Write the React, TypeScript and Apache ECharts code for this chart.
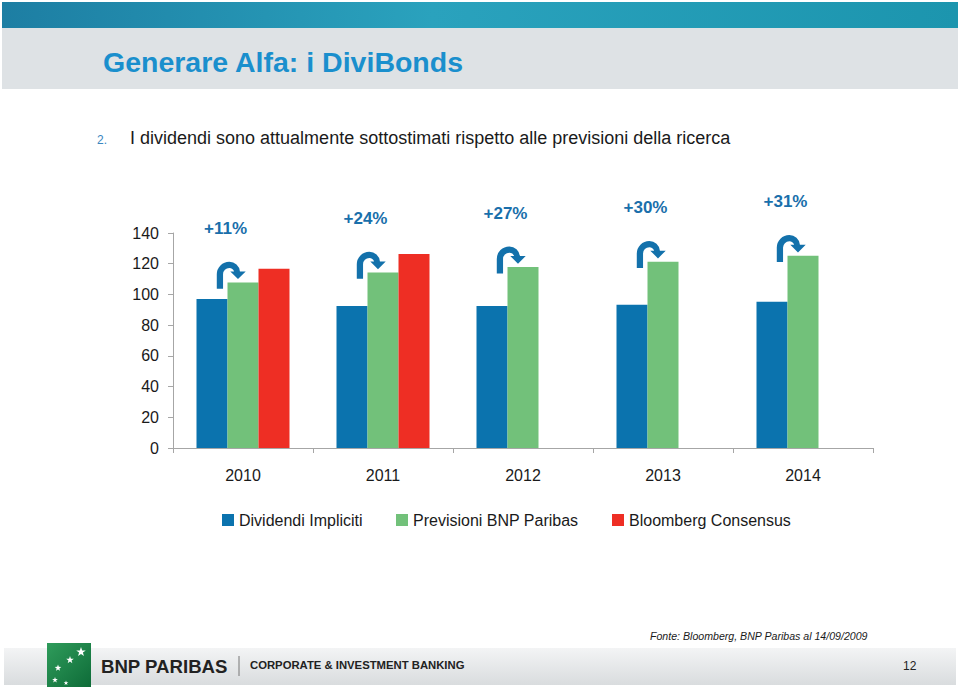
import React, { useEffect, useRef } from "react";
import * as echarts from "echarts";

const years = ["2010", "2011", "2012", "2013", "2014"];
const dividendiImpliciti = [97.1, 92.5, 92.5, 93.2, 95.2];
const previsioniBNP = [107.8, 114.3, 117.8, 121.3, 125.2];
const bloombergConsensus: (number | null)[] = [116.7, 126.3, null, null, null];
const upsideLabels = ["+11%", "+24%", "+27%", "+30%", "+31%"];
const seriesNames = ["Dividendi Impliciti", "Previsioni BNP Paribas", "Bloomberg Consensus"];

const SANS = "'Liberation Sans', Arial, sans-serif";

const BLUE = "#0b73ae";
const GREEN = "#72c17a";
const RED = "#ee2e24";
const ARROW = "#1371ab";

const arrowPath =
  "M0 28 L0 13 A13 13 0 0 1 13 0 A11 11 0 0 1 24 10 L30 10 L22 18 L14 10 L18 10 A5.5 5.5 0 0 0 13 6.5 A6.5 6.5 0 0 0 6.5 13 L6.5 28 Z";

export default function App() {
  const ref = useRef<HTMLDivElement>(null);
  useEffect(() => {
    if (!ref.current) return;
    const chart = echarts.init(ref.current, null, { renderer: "svg" });
    const star = (cx: number, cy: number, r: number) => {
      const pts: number[][] = [];
      for (let k = 0; k < 10; k++) {
        const a = -Math.PI / 2 + (k * Math.PI) / 5;
        const rr = k % 2 === 0 ? r : r * 0.4;
        pts.push([cx + rr * Math.cos(a), cy + rr * Math.sin(a)]);
      }
      return { type: "polygon", shape: { points: pts }, style: { fill: "#ffffff" } };
    };
    const legendText = { fontSize: 16, fontFamily: SANS, color: "#1a1a1a" };
    const legendLefts = [217, 391, 607];
    chart.setOption({
      animation: false,
      backgroundColor: "#ffffff",
      graphic: [
        {
          type: "rect",
          shape: { x: 2, y: 2, width: 956, height: 26 },
          style: {
            fill: new echarts.graphic.LinearGradient(0, 0, 1, 0, [
              { offset: 0, color: "#1d7ea3" },
              { offset: 0.45, color: "#2aa2bd" },
              { offset: 1, color: "#1c95ae" },
            ]),
          },
        },
        {
          type: "rect",
          shape: { x: 2, y: 28, width: 956, height: 61 },
          style: { fill: "#dee2e5" },
        },
        {
          type: "text",
          x: 103,
          y: 62,
          style: {
            text: "Generare Alfa: i DiviBonds",
            fontSize: 28.5,
            fontWeight: "bold",
            fontFamily: SANS,
            fill: "#1a8fcd",
            textVerticalAlign: "middle",
          },
        },
        {
          type: "text",
          x: 97,
          y: 140,
          style: {
            text: "2.",
            fontSize: 12,
            fontFamily: SANS,
            fill: "#3a86c0",
            textVerticalAlign: "middle",
          },
        },
        {
          type: "text",
          x: 130,
          y: 138,
          style: {
            text: "I dividendi sono attualmente sottostimati rispetto alle previsioni della ricerca",
            fontSize: 18,
            fontFamily: SANS,
            fill: "#1a1a1a",
            textVerticalAlign: "middle",
          },
        },
        {
          type: "text",
          x: 650,
          y: 636,
          style: {
            text: "Fonte: Bloomberg, BNP Paribas al 14/09/2009",
            fontSize: 10.6,
            fontStyle: "italic",
            fontFamily: SANS,
            fill: "#1a1a1a",
            textVerticalAlign: "middle",
          },
        },
        {
          type: "rect",
          shape: { x: 4, y: 648, width: 952, height: 37 },
          style: {
            fill: new echarts.graphic.LinearGradient(0, 0, 0, 1, [
              { offset: 0, color: "#f3f4f5" },
              { offset: 1, color: "#d9dcde" },
            ]),
          },
        },
        {
          type: "rect",
          shape: { x: 47, y: 643, width: 44, height: 44 },
          style: {
            fill: new echarts.graphic.LinearGradient(0, 0, 1, 1, [
              { offset: 0, color: "#2f9c5b" },
              { offset: 1, color: "#0e6b38" },
            ]),
          },
        },
        star(81, 652, 5),
        star(70, 660, 4),
        star(58, 668, 3.5),
        star(55, 680, 3),
        star(66, 683, 2.5),
        {
          type: "text",
          x: 101,
          y: 666,
          style: {
            text: "BNP PARIBAS",
            fontSize: 18.6,
            fontWeight: "bold",
            fontFamily: SANS,
            fill: "#222222",
            textVerticalAlign: "middle",
          },
        },
        {
          type: "line",
          shape: { x1: 239, y1: 656, x2: 239, y2: 676 },
          style: { stroke: "#777777", lineWidth: 1 },
        },
        {
          type: "text",
          x: 250,
          y: 665,
          style: {
            text: "CORPORATE & INVESTMENT BANKING",
            fontSize: 11.3,
            fontWeight: "bold",
            fontFamily: SANS,
            fill: "#222222",
            textVerticalAlign: "middle",
          },
        },
        {
          type: "text",
          x: 903,
          y: 666,
          style: {
            text: "12",
            fontSize: 12,
            fontFamily: SANS,
            fill: "#222222",
            textVerticalAlign: "middle",
          },
        },
      ],
      legend: seriesNames.map((name, i) => ({
        left: legendLefts[i],
        top: 507,
        itemWidth: 12,
        itemHeight: 12,
        icon: "rect",
        data: [name],
        textStyle: legendText,
      })),
      grid: { left: 173, right: 87, top: 233, bottom: 244, containLabel: false },
      xAxis: {
        type: "category",
        data: years,
        axisLine: { lineStyle: { color: "#a6a6a6" } },
        axisTick: { show: true, length: 5, lineStyle: { color: "#a6a6a6" } },
        axisLabel: { fontSize: 16, fontFamily: SANS, color: "#1a1a1a", margin: 19 },
      },
      yAxis: {
        type: "value",
        min: 0,
        max: 140,
        interval: 20,
        splitLine: { show: false },
        axisLine: { show: true, lineStyle: { color: "#a6a6a6" } },
        axisTick: { show: true, length: 5, lineStyle: { color: "#a6a6a6" } },
        axisLabel: { fontSize: 16, fontFamily: SANS, color: "#1a1a1a", margin: 14 },
      },
      series: [
        {
          name: seriesNames[0],
          type: "bar",
          data: dividendiImpliciti,
          barWidth: 31,
          barGap: "0%",
          itemStyle: { color: BLUE },
        },
        {
          name: seriesNames[1],
          type: "bar",
          data: previsioniBNP,
          barWidth: 31,
          barGap: "0%",
          itemStyle: { color: GREEN },
        },
        {
          name: seriesNames[2],
          type: "bar",
          data: bloombergConsensus.map((v) => (v === null ? "-" : v)),
          barWidth: 31,
          barGap: "0%",
          itemStyle: { color: RED },
        },
        {
          type: "custom",
          z: 10,
          silent: true,
          data: years.map((_, i) => [i, previsioniBNP[i], i]),
          renderItem: (params: any, api: any) => {
            const p = api.coord([api.value(0), api.value(1)]);
            const idx = api.value(2);
            return {
              type: "group",
              children: [
                {
                  type: "path",
                  shape: {
                    pathData: arrowPath,
                    x: p[0] - 27.5,
                    y: p[1] - 20.7,
                    width: 31.5,
                    height: 27,
                  },
                  style: { fill: ARROW },
                },
                {
                  type: "text",
                  x: p[0] - 17.5,
                  y: p[1] - 54,
                  style: {
                    text: upsideLabels[idx],
                    fontSize: 17,
                    fontWeight: "bold",
                    fontFamily: SANS,
                    fill: "#1a6fab",
                    textAlign: "center",
                    textVerticalAlign: "middle",
                  },
                },
              ],
            };
          },
        },
      ],
    });
    return () => chart.dispose();
  }, []);
  return (
    <div
      ref={ref}
      style={{ position: "fixed", left: 0, top: 0, width: 960, height: 692 }}
    />
  );
}
